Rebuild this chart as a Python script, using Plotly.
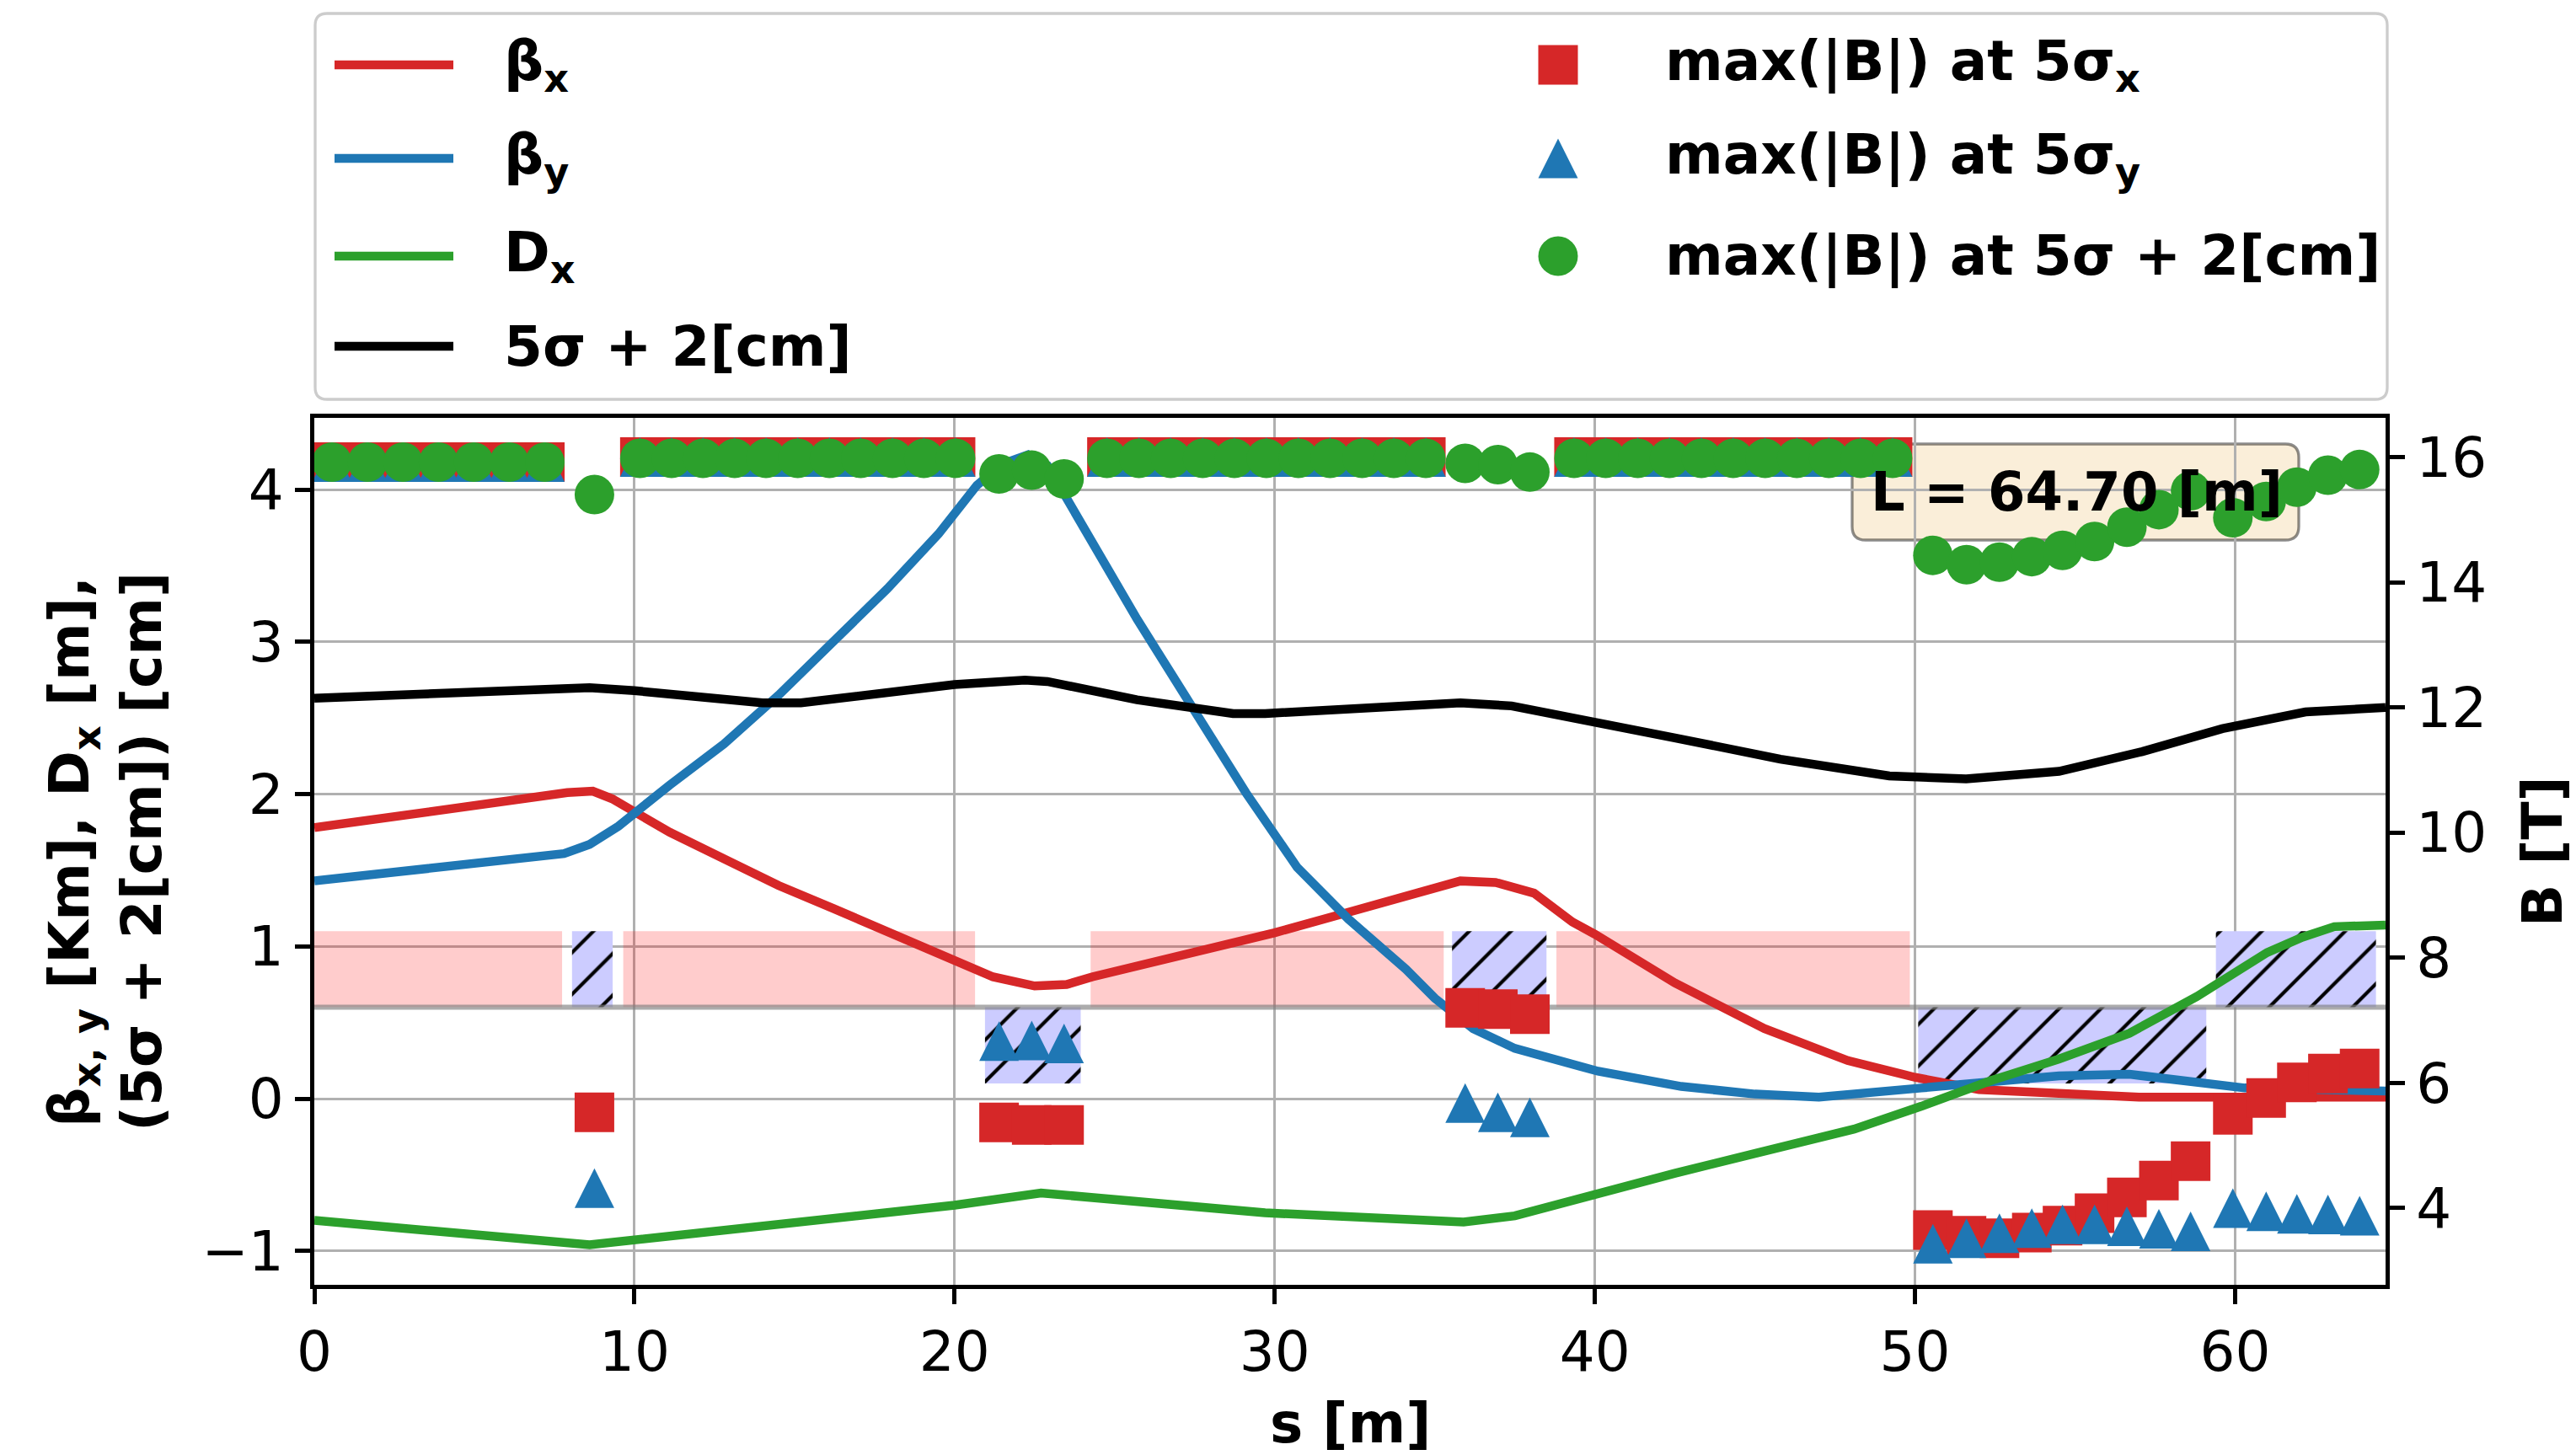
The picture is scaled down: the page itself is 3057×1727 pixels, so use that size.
import plotly.graph_objects as go

# ---------------- optics functions along the line, s [m] ----------------
s_bx = [0.0, 4.0, 7.9, 8.7, 9.3, 11.1, 12.8, 14.5, 16.2, 17.9, 19.5, 21.2, 22.5,
        23.5, 24.3, 27.0, 30.0, 32.4, 35.0, 35.8, 36.9, 38.1, 39.3, 40.0, 42.5,
        45.3, 47.9, 50.0, 52.0, 54.5, 57.0, 60.0, 64.7]
beta_x = [1.78, 1.90, 2.01, 2.02, 1.97, 1.75, 1.57, 1.40, 1.25, 1.10, 0.96, 0.80, 0.74,
          0.75, 0.80, 0.94, 1.09, 1.23, 1.38, 1.43, 1.42, 1.35, 1.16, 1.08, 0.76,
          0.46, 0.25, 0.14, 0.06, 0.03, 0.01, 0.01, 0.01]

s_by = [0.0, 7.8, 8.6, 9.5, 11.1, 12.8, 14.5, 16.2, 17.9, 19.5, 20.7, 21.5, 22.3,
        22.9, 23.4, 24.5, 25.7, 27.4, 29.1, 30.7, 32.3, 34.1, 35.0, 36.2, 37.5,
        40.1, 42.7, 45.0, 47.0, 50.2, 52.4, 54.5, 56.7, 58.8, 60.3, 64.7]
beta_y = [1.43, 1.61, 1.67, 1.79, 2.06, 2.33, 2.65, 2.99, 3.35, 3.71, 4.03, 4.17, 4.23,
          4.16, 3.98, 3.58, 3.15, 2.58, 2.01, 1.52, 1.18, 0.85, 0.66, 0.46, 0.33,
          0.18, 0.08, 0.03, 0.01, 0.07, 0.11, 0.15, 0.16, 0.11, 0.07, 0.05]

s_dx = [0.0, 8.6, 20.0, 22.7, 29.7, 35.9, 37.5, 40.1, 42.5, 45.0, 48.1, 50.2, 52.4,
        54.5, 56.7, 58.8, 59.9, 61.0, 62.1, 63.1, 64.7]
disp_x = [-0.80, -0.96, -0.70, -0.62, -0.75, -0.81, -0.77, -0.62, -0.49, -0.36, -0.20,
          -0.05, 0.12, 0.26, 0.43, 0.67, 0.81, 0.96, 1.06, 1.13, 1.14]

s_env = [0.0, 8.6, 10.0, 14.0, 15.2, 20.0, 22.2, 22.9, 25.7, 28.7, 29.7, 35.8, 37.4,
         40.0, 42.5, 45.8, 49.2, 51.6, 54.5, 57.1, 59.6, 62.2, 64.7]
env_5s2 = [2.63, 2.70, 2.68, 2.60, 2.60, 2.72, 2.75, 2.74, 2.62, 2.53, 2.53, 2.60, 2.58,
           2.48, 2.37, 2.23, 2.12, 2.10, 2.15, 2.28, 2.43, 2.54, 2.57]

# ---------------- peak field in each magnet slice [T] ----------------
s_slice = [0.55, 1.66, 2.77, 3.88, 4.98, 6.09, 7.20,
           8.75,
           10.17, 11.16, 12.14, 13.13, 14.11, 15.10, 16.09, 17.07, 18.06, 19.04, 20.03,
           21.39, 22.41, 23.42,
           24.76, 25.76, 26.75, 27.75, 28.74, 29.74, 30.74, 31.73, 32.73, 33.72, 34.72,
           35.95, 36.97, 37.97,
           39.35, 40.34, 41.34, 42.33, 43.33, 44.32, 45.32, 46.31, 47.31, 48.30, 49.30,
           50.56, 51.61, 52.64, 53.65, 54.61, 55.61, 56.62, 57.62, 58.61,
           59.93, 60.97, 61.93, 62.90, 63.89]
b_5sx = [15.92, 15.92, 15.92, 15.92, 15.92, 15.92, 15.92,
         5.53,
         16.00, 16.00, 16.00, 16.00, 16.00, 16.00, 16.00, 16.00, 16.00, 16.00, 16.00,
         5.37, 5.33, 5.33,
         16.00, 16.00, 16.00, 16.00, 16.00, 16.00, 16.00, 16.00, 16.00, 16.00, 16.00,
         7.20, 7.18, 7.10,
         16.00, 16.00, 16.00, 16.00, 16.00, 16.00, 16.00, 16.00, 16.00, 16.00, 16.00,
         3.65, 3.56, 3.52, 3.61, 3.72, 3.92, 4.17, 4.44, 4.75,
         5.49, 5.76, 6.01, 6.15, 6.23]
b_5sy = [15.92, 15.92, 15.92, 15.92, 15.92, 15.92, 15.92,
         4.32,
         16.00, 16.00, 16.00, 16.00, 16.00, 16.00, 16.00, 16.00, 16.00, 16.00, 16.00,
         6.67, 6.68, 6.63,
         16.00, 16.00, 16.00, 16.00, 16.00, 16.00, 16.00, 16.00, 16.00, 16.00, 16.00,
         5.68, 5.53, 5.45,
         16.00, 16.00, 16.00, 16.00, 16.00, 16.00, 16.00, 16.00, 16.00, 16.00, 16.00,
         3.43, 3.52, 3.60, 3.68, 3.74, 3.74, 3.71, 3.67, 3.63,
         4.00, 3.95, 3.91, 3.90, 3.88]
b_5s2 = [15.92, 15.92, 15.92, 15.92, 15.92, 15.92, 15.92,
         15.40,
         15.98, 15.98, 15.98, 15.98, 15.98, 15.98, 15.98, 15.98, 15.98, 15.98, 15.98,
         15.73, 15.79, 15.65,
         15.98, 15.98, 15.98, 15.98, 15.98, 15.98, 15.98, 15.98, 15.98, 15.98, 15.98,
         15.90, 15.88, 15.76,
         15.98, 15.98, 15.98, 15.98, 15.98, 15.98, 15.98, 15.98, 15.98, 15.98, 15.98,
         14.43, 14.28, 14.32, 14.41, 14.51, 14.65, 14.88, 15.16, 15.46,
         15.03, 15.29, 15.52, 15.71, 15.80]

# ---------------- magnet layout ----------------
dip_start = [0.0, 9.65, 24.25, 38.80]
dip_end = [7.74, 20.64, 35.28, 49.84]
quad_start = [8.05, 20.95, 35.54, 50.10, 59.40]
quad_end = [9.32, 23.94, 38.49, 59.10, 64.40]
quad_sign = [1, -1, 1, -1, 1]
layout_base = 0.6
layout_height = 0.5

ring_length = 64.70

# ---------------- styling ----------------
RED, BLUE, GREEN, BLACK = "#d62728", "#1f77b4", "#2ca02c", "black"
FONT = "DejaVu Sans"
FS = 66
LW = 10.5
MS = 47

W, H = 3057, 1727
L_PX, R_PX, T_PX, B_PX = 373, 2831, 496, 1525


def fx(px):
    return (px - L_PX) / (R_PX - L_PX)


def fy(py):
    return (B_PX - py) / (B_PX - T_PX)


def rect_outline(starts, ends, lows, highs):
    xs, ys = [], []
    for a, b, lo, hi in zip(starts, ends, lows, highs):
        xs += [a, b, b, a, a, None]
        ys += [lo, lo, hi, hi, lo, None]
    return xs, ys


def rounded_path(x0, y0, x1, y1, r):
    """Rounded rectangle in paper units from pixel corners (y downwards)."""
    def p(x, y):
        return f"{fx(x):.5f},{fy(y):.5f}"
    return (f"M{p(x0 + r, y0)} L{p(x1 - r, y0)} Q{p(x1, y0)} {p(x1, y0 + r)} "
            f"L{p(x1, y1 - r)} Q{p(x1, y1)} {p(x1 - r, y1)} "
            f"L{p(x0 + r, y1)} Q{p(x0, y1)} {p(x0, y1 - r)} "
            f"L{p(x0, y0 + r)} Q{p(x0, y0)} {p(x0 + r, y0)} Z")


fig = go.Figure()

# dipoles (pink) and quadrupoles (hatched) on the left axis
dxs, dys = rect_outline(dip_start, dip_end,
                        [layout_base] * len(dip_start),
                        [layout_base + layout_height] * len(dip_start))
fig.add_trace(go.Scatter(x=dxs, y=dys, mode="lines", fill="toself",
                         fillcolor="rgba(255,0,0,0.2)", line=dict(width=0),
                         hoverinfo="skip", showlegend=False))

q_lo = [layout_base if sg > 0 else layout_base - layout_height for sg in quad_sign]
q_hi = [layout_base + layout_height if sg > 0 else layout_base for sg in quad_sign]
qxs, qys = rect_outline(quad_start, quad_end, q_lo, q_hi)
fig.add_trace(go.Scatter(x=qxs, y=qys, mode="lines", fill="toself",
                         fillcolor="rgb(204,204,255)",
                         fillpattern=dict(shape="/", fgcolor="black", fgopacity=1,
                                          bgcolor="rgb(204,204,255)",
                                          size=35, solidity=0.12),
                         line=dict(width=0), hoverinfo="skip", showlegend=False))

# magnet reference level across the whole line
fig.add_trace(go.Scatter(x=[0, ring_length], y=[layout_base, layout_base], mode="lines",
                         line=dict(color="rgba(128,128,128,0.65)", width=6),
                         hoverinfo="skip", showlegend=False))

# optics lines
for s, v, c in [(s_bx, beta_x, RED), (s_by, beta_y, BLUE),
                (s_dx, disp_x, GREEN), (s_env, env_5s2, BLACK)]:
    fig.add_trace(go.Scatter(x=s, y=v, mode="lines",
                             line=dict(color=c, width=LW), showlegend=False))

# peak fields on the right axis
fig.add_trace(go.Scatter(x=s_slice, y=b_5sx, yaxis="y2", mode="markers",
                         marker=dict(symbol="square", size=MS, color=RED),
                         showlegend=False))
fig.add_trace(go.Scatter(x=s_slice, y=b_5sy, yaxis="y2", mode="markers",
                         marker=dict(symbol="arrow-down", angle=180, standoff=MS / 2,
                                     size=MS, color=BLUE),
                         showlegend=False))
fig.add_trace(go.Scatter(x=s_slice, y=b_5s2, yaxis="y2", mode="markers",
                         marker=dict(symbol="circle", size=MS, color=GREEN),
                         showlegend=False))

axis_common = dict(showline=True, linecolor="black", linewidth=5,
                   ticks="outside", ticklen=18, tickwidth=4.5, tickcolor="black",
                   tickfont=dict(family=FONT, size=FS, color="black"),
                   zeroline=False)

fig.update_layout(
    width=W, height=H,
    margin=dict(l=L_PX, r=W - R_PX, t=T_PX, b=H - B_PX, pad=0),
    paper_bgcolor="white", plot_bgcolor="rgba(0,0,0,0)",
    font=dict(family=FONT, size=FS, color="black"),
    showlegend=False, hovermode=False,
    xaxis=dict(range=[0, ring_length], tick0=0, dtick=10, mirror=True,
               showgrid=True, gridcolor="#b0b0b0", gridwidth=3.3, **axis_common),
    yaxis=dict(range=[-1.223, 4.472], tick0=0, dtick=1,
               showgrid=True, gridcolor="#b0b0b0", gridwidth=3.3, **axis_common),
    yaxis2=dict(range=[2.775, 16.626], tick0=0, dtick=2, overlaying="y", side="right",
                showgrid=False, **axis_common),
)

ann = dict(xref="paper", yref="paper", showarrow=False,
           font=dict(family=FONT, size=FS, color="black"))

# ring length box
fig.add_shape(type="path", xref="paper", yref="paper", layer="below",
              path=rounded_path(2198, 527, 2728, 641, 16),
              fillcolor="rgba(245,222,179,0.5)",
              line=dict(color="rgba(0,0,0,0.45)", width=3.3))
fig.add_annotation(text=f"<b>L = {ring_length:.2f} [m]</b>", x=fx(2464), y=fy(584),
                   xanchor="center", yanchor="middle",
                   xref="paper", yref="paper", showarrow=False,
                   font=dict(family=FONT, size=64, color="black"))

# axis titles
fig.add_annotation(text="<b>s [m]</b>", x=fx(1602), y=fy(1689),
                   xanchor="center", yanchor="middle", **ann)
fig.add_annotation(text="<b>B [T]</b>", x=fx(3017), y=fy(1011), textangle=-90,
                   xanchor="center", yanchor="middle", **ann)
fig.add_annotation(text="<b>β<sub>x, y</sub> [Km], D<sub>x</sub> [m],<br>(5σ + 2[cm]) [cm]</b>",
                   x=fx(125), y=fy(1011), textangle=-90,
                   xanchor="center", yanchor="middle", **ann)

# legend
fig.add_shape(type="path", xref="paper", yref="paper", layer="above",
              path=rounded_path(374, 16, 2833, 474, 14),
              fillcolor="rgba(255,255,255,0.8)",
              line=dict(color="#cccccc", width=3.3))

rows = [77, 188, 304, 411]
line_items = [("β<sub>x</sub>", RED), ("β<sub>y</sub>", BLUE),
              ("D<sub>x</sub>", GREEN), ("5σ + 2[cm]", BLACK)]
for (label, color), ry in zip(line_items, rows):
    fig.add_shape(type="line", xref="paper", yref="paper", layer="above",
                  x0=fx(397), x1=fx(538), y0=fy(ry), y1=fy(ry),
                  line=dict(color=color, width=LW))
    fig.add_annotation(text=f"<b>{label}</b>", x=fx(596), y=fy(ry),
                       xanchor="left", yanchor="middle", **ann)

mk_x = fx(1849)
h = MS / 2
fig.add_shape(type="rect", xref="paper", yref="paper", layer="above",
              xsizemode="pixel", ysizemode="pixel", xanchor=mk_x, yanchor=fy(rows[0]),
              x0=-h, x1=h, y0=-h, y1=h, fillcolor=RED, line=dict(width=0))
fig.add_shape(type="path", xref="paper", yref="paper", layer="above",
              xsizemode="pixel", ysizemode="pixel", xanchor=mk_x, yanchor=fy(rows[1]),
              path=f"M0,{h} L{-h},{-h} L{h},{-h} Z", fillcolor=BLUE, line=dict(width=0))
fig.add_shape(type="circle", xref="paper", yref="paper", layer="above",
              xsizemode="pixel", ysizemode="pixel", xanchor=mk_x, yanchor=fy(rows[2]),
              x0=-h, x1=h, y0=-h, y1=h, fillcolor=GREEN, line=dict(width=0))

marker_items = ["max(|B|) at 5σ<sub>x</sub>", "max(|B|) at 5σ<sub>y</sub>",
                "max(|B|) at 5σ + 2[cm]"]
for label, ry in zip(marker_items, rows):
    fig.add_annotation(text=f"<b>{label}</b>", x=fx(1974), y=fy(ry),
                       xanchor="left", yanchor="middle", **ann)

fig.write_html("out.html")
